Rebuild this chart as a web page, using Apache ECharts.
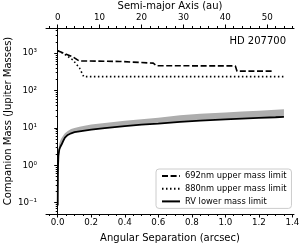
<!DOCTYPE html>
<html><head><meta charset="utf-8">
<script src="https://cdn.jsdelivr.net/npm/echarts@6/dist/echarts.min.js"></script>
<style>html,body{margin:0;padding:0;background:#fff}#c{width:305px;height:247px}</style>
</head><body><div id="c"></div>
<script>
// ---- data ----
const sep692 = [0.0, 0.05, 0.09, 0.127, 0.37, 0.38, 0.57, 0.59, 1.06, 1.07, 1.28];
const mass692 = [1150, 940, 800, 620, 600, 560, 540, 460, 455, 330, 330];

const sep880 = [0.0, 0.032, 0.09, 0.13, 0.155, 1.35];
const mass880 = [1150, 1000, 660, 400, 235, 235];

const sepRV = [0, 0.0005, 0.001, 0.002, 0.004, 0.009, 0.015, 0.023, 0.033, 0.043, 0.06, 0.08, 0.1, 0.13, 0.16, 0.2, 0.28, 0.4, 0.5, 0.6, 0.73, 0.85, 1.0, 1.1, 1.2, 1.3, 1.35];
const massRV = [0.085, 0.25, 0.5, 1.0, 1.8, 2.6, 3.1, 3.6, 4.5, 5.5, 6.5, 7.2, 7.7, 8.1, 8.5, 9.0, 9.9, 11.2, 12.3, 13.0, 14.5, 15.7, 17.0, 17.8, 18.6, 19.3, 19.7];
const massRVHigh = [0.1, 0.35, 0.7, 1.4, 2.6, 3.8, 4.6, 5.4, 6.3, 7.2, 8.3, 9.3, 10.0, 10.8, 11.4, 12.3, 13.6, 15.6, 17.2, 18.6, 22.0, 23.8, 26.0, 27.6, 29.0, 30.8, 31.5];

// ---- ticks ----
const sepTicks = [0, 0.2, 0.4, 0.6, 0.8, 1.0, 1.2, 1.4];
const sepMinor = [-0.05, 0.05, 0.1, 0.15, 0.25, 0.3, 0.35, 0.45, 0.5, 0.55, 0.65, 0.7, 0.75, 0.85, 0.9, 0.95, 1.05, 1.1, 1.15, 1.25, 1.3, 1.35];
const auTicks = [0, 10, 20, 30, 40, 50];
const auMinor = [-2, 2, 4, 6, 8, 12, 14, 16, 18, 22, 24, 26, 28, 32, 34, 36, 38, 42, 44, 46, 48, 52, 54, 56];
const massTicks = [0.1, 1, 10, 100, 1000];
const massTickLabels = ['10⁻¹', '10⁰', '10¹', '10²', '10³'];
const massMinor = [0.06, 0.07, 0.08, 0.09, 0.2, 0.3, 0.4, 0.5, 0.6, 0.7, 0.8, 0.9, 2, 3, 4, 5, 6, 7, 8, 9, 20, 30, 40, 50, 60, 70, 80, 90, 200, 300, 400, 500, 600, 700, 800, 900, 2000, 3000, 4000];

const auPerArcsec = 40;
const sepMin = -0.07, sepMax = 1.41;
const massMin = 0.05, massMax = 4700;

const FONT = 'DejaVu Sans';
const tickFs = 8.7;

const chart = echarts.init(document.getElementById('c'), null, {renderer: 'canvas'});

function zip(a, b) { return a.map((v, i) => [v, b[i]]); }

const blackLine = {lineStyle: {color: '#000', width: 1}};

chart.setOption({
  animation: false,
  backgroundColor: '#fff',
  color: ['#000'],
  title: {
    text: 'HD 207700', right: 14, top: 31,
    textStyle: {fontFamily: FONT, fontSize: 10, fontWeight: 'normal', color: '#000'}
  },
  grid: {left: 46, right: 11, top: 28, bottom: 33, containLabel: false, outerBoundsMode: 'none'},
  legend: {
    data: ['692nm upper mass limit', '880nm upper mass limit', 'RV lower mass limit'],
    orient: 'vertical', left: 156, top: 169,
    itemWidth: 18, itemHeight: 8, itemGap: 4.7,
    padding: [3, 5, 3, 5],
    borderColor: '#cccccc', borderWidth: 1, borderRadius: 3,
    backgroundColor: '#fff',
    itemStyle: {opacity: 0},
    textStyle: {fontFamily: FONT, fontSize: 8.3, color: '#000'}
  },
  xAxis: [
    {
      type: 'value', position: 'bottom', min: sepMin, max: sepMax,
      axisLine: {show: true, ...blackLine},
      axisTick: {show: true, customValues: sepTicks, length: 3.5, lineStyle: {color: '#000'}},
      axisLabel: {customValues: sepTicks, formatter: v => v.toFixed(1), fontFamily: FONT, fontSize: tickFs, color: '#000', margin: 4},
      splitLine: {show: false},
      name: 'Angular Separation (arcsec)', nameLocation: 'middle', nameGap: 19, nameMoveOverlap: false,
      nameTextStyle: {fontFamily: FONT, fontSize: 10, color: '#000'}
    },
    {
      type: 'value', position: 'bottom', offset: 0, min: sepMin, max: sepMax,
      axisLine: {show: false},
      axisTick: {show: true, customValues: sepMinor, length: 2, lineStyle: {color: '#000'}},
      axisLabel: {show: false}, splitLine: {show: false}
    },
    {
      type: 'value', position: 'top', offset: 0, min: sepMin * auPerArcsec, max: sepMax * auPerArcsec,
      axisLine: {show: true, ...blackLine},
      axisTick: {show: true, customValues: auTicks, length: 3.5, lineStyle: {color: '#000'}},
      axisLabel: {customValues: auTicks, formatter: v => String(Math.round(v)), fontFamily: FONT, fontSize: tickFs, color: '#000', margin: 6},
      splitLine: {show: false},
      name: 'Semi-major Axis (au)', nameLocation: 'middle', nameGap: 17, nameMoveOverlap: false,
      nameTextStyle: {fontFamily: FONT, fontSize: 10, color: '#000'}
    },
    {
      type: 'value', position: 'top', offset: 0, min: sepMin * auPerArcsec, max: sepMax * auPerArcsec,
      axisLine: {show: false},
      axisTick: {show: true, customValues: auMinor, length: 2, lineStyle: {color: '#000'}},
      axisLabel: {show: false}, splitLine: {show: false}
    }
  ],
  yAxis: [
    {
      type: 'log', logBase: 10, position: 'left', min: massMin, max: massMax,
      axisLine: {show: true, ...blackLine},
      axisTick: {show: true, customValues: massTicks, length: 3.5, lineStyle: {color: '#000'}},
      axisLabel: {
        customValues: massTicks,
        formatter: v => massTickLabels[Math.round(Math.log10(v)) + 1],
        fontFamily: FONT, fontSize: tickFs, color: '#000', margin: 9
      },
      splitLine: {show: false},
      name: 'Companion Mass (Jupiter Masses)', nameLocation: 'middle', nameGap: 33, nameMoveOverlap: false,
      nameTextStyle: {fontFamily: FONT, fontSize: 10, color: '#000'}
    },
    {
      type: 'log', logBase: 10, position: 'left', offset: 0, min: massMin, max: massMax,
      axisLine: {show: false},
      axisTick: {show: true, customValues: massMinor, length: 2, lineStyle: {color: '#000'}},
      axisLabel: {show: false}, splitLine: {show: false}
    },
    {
      type: 'log', logBase: 10, position: 'right', offset: 0, min: massMin, max: massMax,
      axisLine: {show: true, ...blackLine},
      axisTick: {show: false}, axisLabel: {show: false}, splitLine: {show: false}
    }
  ],
  series: [
    {
      type: 'custom', name: 'band', xAxisIndex: 0, yAxisIndex: 0, z: 1, silent: true,
      data: [[0.5, 1]],
      renderItem: function (params, api) {
        const pts = [];
        for (let i = 0; i < sepRV.length; i++) pts.push(api.coord([sepRV[i], massRVHigh[i]]));
        for (let i = sepRV.length - 1; i >= 0; i--) pts.push(api.coord([sepRV[i], massRV[i]]));
        return {type: 'polygon', shape: {points: pts}, style: {fill: '#adadad', stroke: null}};
      }
    },
    {
      type: 'line', name: '692nm upper mass limit', xAxisIndex: 0, yAxisIndex: 0, z: 3,
      data: zip(sep692, mass692), symbol: 'none', itemStyle: {color: '#000'},
      lineStyle: {color: '#000', width: 1.6, type: [6, 2.6]}
    },
    {
      type: 'line', name: '880nm upper mass limit', xAxisIndex: 0, yAxisIndex: 0, z: 3,
      data: zip(sep880, mass880), symbol: 'none', itemStyle: {color: '#000'},
      lineStyle: {color: '#000', width: 1.6, type: [1.5, 2.5]}
    },
    {
      type: 'line', name: 'RV lower mass limit', xAxisIndex: 0, yAxisIndex: 0, z: 4,
      data: zip(sepRV, massRV), symbol: 'none', itemStyle: {color: '#000'},
      lineStyle: {color: '#000', width: 1.8}
    }
  ]
});
</script>
</body></html>
